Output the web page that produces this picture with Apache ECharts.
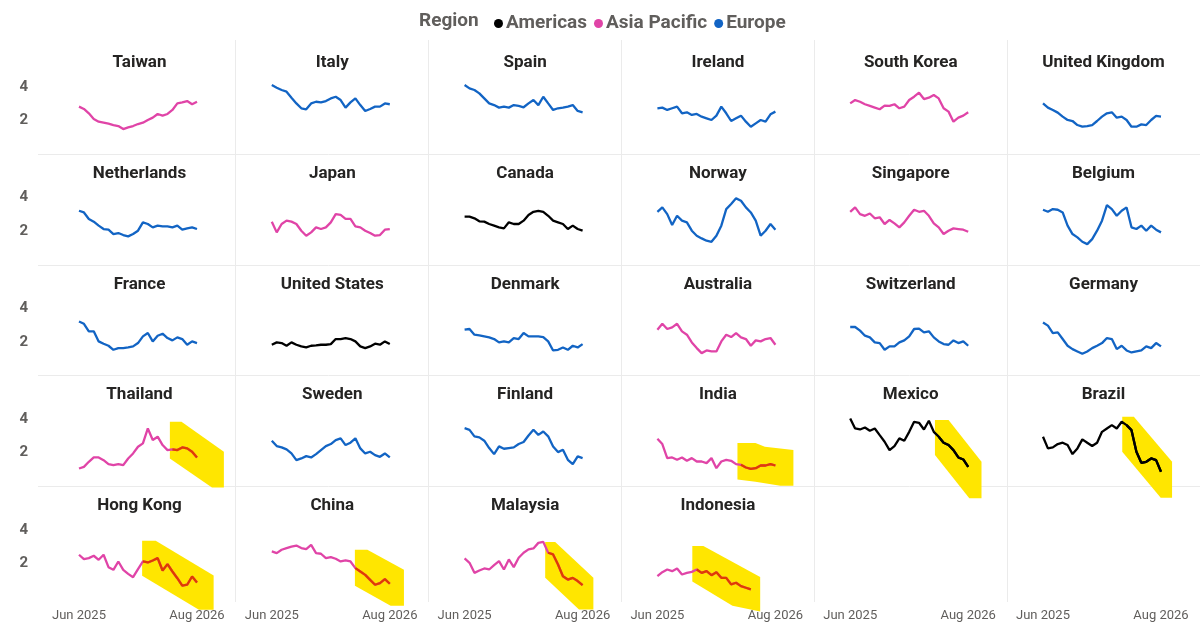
<!DOCTYPE html>
<html>
<head>
<meta charset="utf-8">
<script src="https://cdn.jsdelivr.net/npm/echarts@6/dist/echarts.min.js"></script>
<style>
  html, body { margin: 0; padding: 0; background: #fff; }
  #chart { width: 1200px; height: 642px; }
</style>
</head>
<body>
<div id="chart"></div>
<script>
// panels, row by row (6 per row)
const countries = [
  'Taiwan', 'Italy', 'Spain', 'Ireland', 'South Korea', 'United Kingdom',
  'Netherlands', 'Japan', 'Canada', 'Norway', 'Singapore', 'Belgium',
  'France', 'United States', 'Denmark', 'Australia', 'Switzerland', 'Germany',
  'Thailand', 'Sweden', 'Finland', 'India', 'Mexico', 'Brazil',
  'Hong Kong', 'China', 'Malaysia', 'Indonesia'
];
const regions = [
  'Asia Pacific', 'Europe', 'Europe', 'Europe', 'Asia Pacific', 'Europe',
  'Europe', 'Asia Pacific', 'Americas', 'Europe', 'Asia Pacific', 'Europe',
  'Europe', 'Americas', 'Europe', 'Asia Pacific', 'Europe', 'Europe',
  'Asia Pacific', 'Europe', 'Europe', 'Asia Pacific', 'Americas', 'Americas',
  'Asia Pacific', 'Asia Pacific', 'Asia Pacific', 'Asia Pacific'
];
const legendItems = ['Americas', 'Asia Pacific', 'Europe'];
const firstDate = '2025-06-01';
const lastDate = '2026-08-01';
const yTicks = [2, 4];

// values, evenly spaced from Jun 2025 to Aug 2026
const taiwan = [2.83, 2.69, 2.43, 2.09, 1.93, 1.87, 1.81, 1.73, 1.67, 1.49, 1.59, 1.67, 1.79, 1.87, 2.03, 2.17, 2.39, 2.29, 2.39, 2.63, 3.02, 3.08, 3.16, 2.97, 3.12];
const italy = [4.12, 3.96, 3.82, 3.72, 3.36, 3.02, 2.73, 2.67, 3.02, 3.12, 3.08, 3.16, 3.32, 3.42, 3.22, 2.77, 3.08, 3.32, 2.92, 2.57, 2.69, 2.83, 2.83, 3.02, 2.97];
const spain = [4.12, 3.92, 3.82, 3.62, 3.32, 3.02, 2.92, 2.77, 2.83, 2.77, 2.92, 2.87, 2.79, 3.02, 3.22, 2.92, 3.42, 3.02, 2.63, 2.73, 2.77, 2.83, 2.92, 2.57, 2.49];
const ireland = [2.73, 2.77, 2.63, 2.73, 2.83, 2.43, 2.49, 2.33, 2.39, 2.23, 2.13, 2.03, 2.29, 2.83, 2.43, 1.97, 2.13, 2.29, 1.93, 1.63, 1.83, 2.03, 1.93, 2.37, 2.53];
const southKorea = [3.02, 3.22, 3.12, 2.97, 2.87, 2.77, 2.67, 2.89, 2.87, 2.97, 2.73, 2.83, 3.22, 3.42, 3.66, 3.28, 3.36, 3.52, 3.32, 2.73, 2.53, 1.93, 2.17, 2.29, 2.49];
const unitedKingdom = [3.02, 2.77, 2.63, 2.47, 2.23, 2.03, 1.97, 1.73, 1.63, 1.67, 1.73, 1.97, 2.23, 2.43, 2.49, 2.17, 2.23, 2.03, 1.63, 1.63, 1.77, 1.73, 2.03, 2.27, 2.23];
const netherlands = [3.22, 3.12, 2.73, 2.57, 2.33, 2.13, 2.09, 1.83, 1.89, 1.77, 1.69, 1.83, 2.03, 2.53, 2.43, 2.23, 2.33, 2.29, 2.29, 2.23, 2.33, 2.09, 2.17, 2.23, 2.13];
const japan = [2.57, 1.93, 2.43, 2.63, 2.57, 2.43, 2.03, 1.73, 1.93, 2.23, 2.13, 2.23, 2.53, 3.02, 2.97, 2.73, 2.73, 2.29, 2.23, 2.03, 1.89, 1.73, 1.77, 2.09, 2.13];
const canada = [2.87, 2.87, 2.77, 2.59, 2.57, 2.43, 2.33, 2.23, 2.17, 2.53, 2.43, 2.43, 2.63, 2.97, 3.16, 3.22, 3.16, 2.92, 2.63, 2.53, 2.43, 2.13, 2.33, 2.13, 2.03];
const norway = [3.16, 3.42, 3.02, 2.37, 2.92, 2.63, 2.53, 2.03, 1.73, 1.57, 1.43, 1.37, 1.73, 2.33, 3.32, 3.62, 3.96, 3.82, 3.42, 3.12, 2.63, 1.73, 2.03, 2.43, 2.09];
const singapore = [3.16, 3.42, 3.02, 2.92, 3.06, 2.77, 2.83, 2.43, 2.67, 2.47, 2.23, 2.53, 2.92, 3.28, 3.16, 3.22, 2.92, 2.47, 2.23, 1.83, 2.03, 2.17, 2.13, 2.09, 1.97];
const belgium = [3.28, 3.16, 3.32, 3.28, 3.12, 2.33, 1.83, 1.63, 1.37, 1.23, 1.53, 2.03, 2.63, 3.56, 3.32, 2.92, 3.22, 3.42, 2.23, 2.13, 2.33, 2.03, 2.33, 2.09, 1.93];
const france = [3.22, 3.08, 2.63, 2.63, 2.03, 1.89, 1.77, 1.53, 1.63, 1.63, 1.67, 1.73, 1.93, 2.33, 2.53, 2.03, 2.37, 2.49, 2.23, 2.09, 2.27, 2.17, 1.83, 2.03, 1.93];
const unitedStates = [1.83, 1.97, 1.93, 1.77, 1.97, 1.83, 1.73, 1.67, 1.77, 1.79, 1.83, 1.83, 1.87, 2.17, 2.17, 2.23, 2.17, 2.03, 1.73, 1.63, 1.73, 1.89, 1.83, 2.03, 1.87];
const denmark = [2.73, 2.77, 2.43, 2.39, 2.33, 2.27, 2.17, 1.97, 2.03, 1.97, 2.23, 2.17, 2.53, 2.33, 2.33, 2.33, 2.29, 2.03, 1.49, 1.53, 1.67, 1.53, 1.77, 1.67, 1.87];
const australia = [2.73, 3.08, 2.77, 2.87, 3.08, 2.63, 2.43, 1.97, 1.63, 1.33, 1.49, 1.43, 1.43, 2.03, 2.43, 2.29, 2.53, 2.27, 2.17, 1.77, 2.09, 2.03, 2.17, 2.23, 1.83];
const switzerland = [2.89, 2.89, 2.67, 2.37, 2.27, 1.97, 1.93, 1.53, 1.73, 1.73, 1.97, 2.09, 2.33, 2.77, 2.79, 2.57, 2.63, 2.27, 2.03, 1.87, 1.83, 2.09, 1.93, 2.03, 1.77];
const germany = [3.16, 2.97, 2.53, 2.57, 2.17, 1.77, 1.57, 1.43, 1.29, 1.43, 1.63, 1.77, 1.93, 2.23, 2.17, 1.57, 1.77, 1.49, 1.37, 1.43, 1.49, 1.73, 1.63, 1.93, 1.73];
const thailand = [1.05, 1.15, 1.45, 1.71, 1.71, 1.55, 1.31, 1.25, 1.31, 1.25, 1.65, 1.95, 2.35, 2.55, 3.44, 2.75, 2.95, 2.45, 2.15, 2.19, 2.15, 2.31, 2.25, 2.05, 1.71];
const sweden = [2.71, 2.39, 2.31, 2.19, 1.95, 1.55, 1.65, 1.79, 1.71, 1.91, 2.15, 2.39, 2.51, 2.75, 2.85, 2.45, 2.59, 2.85, 2.25, 1.95, 2.05, 1.85, 1.75, 1.95, 1.71];
const finland = [3.46, 3.36, 2.97, 2.91, 2.71, 2.27, 1.91, 2.37, 2.23, 2.27, 2.31, 2.51, 2.63, 3.02, 3.36, 3.06, 3.26, 2.97, 2.37, 2.03, 2.17, 1.57, 1.31, 1.77, 1.67];
const india = [2.83, 2.51, 1.67, 1.71, 1.57, 1.71, 1.51, 1.67, 1.47, 1.47, 1.37, 1.67, 1.07, 1.47, 1.57, 1.51, 1.31, 1.27, 1.11, 1.03, 1.07, 1.23, 1.23, 1.31, 1.23];
const mexico = [4.04, 3.44, 3.38, 3.50, 3.30, 3.44, 3.04, 2.65, 2.15, 2.39, 2.85, 2.71, 3.24, 3.84, 3.78, 3.38, 3.90, 3.24, 2.95, 2.59, 2.45, 2.15, 1.71, 1.59, 1.15];
const brazil = [2.95, 2.25, 2.31, 2.51, 2.59, 2.45, 1.91, 2.25, 2.79, 2.59, 2.39, 2.59, 3.24, 3.44, 3.64, 3.44, 3.84, 3.64, 3.34, 2.05, 1.39, 1.45, 1.65, 1.55, 0.86];
const hongKong = [2.51, 2.25, 2.31, 2.45, 2.21, 2.51, 1.77, 1.61, 2.11, 1.61, 1.37, 1.17, 1.65, 2.11, 2.05, 2.17, 2.31, 1.57, 1.95, 1.51, 1.11, 0.66, 0.72, 1.21, 0.86];
const china = [2.71, 2.61, 2.81, 2.91, 3.00, 3.06, 2.91, 2.85, 3.10, 2.61, 2.57, 2.31, 2.37, 2.27, 2.11, 2.17, 2.11, 1.71, 1.51, 1.31, 1.01, 0.72, 0.82, 1.05, 0.78];
const malaysia = [2.29, 2.03, 1.43, 1.57, 1.69, 1.63, 1.89, 2.13, 1.63, 2.23, 1.77, 2.33, 2.63, 2.83, 2.89, 3.22, 3.28, 2.63, 2.53, 1.93, 1.23, 1.03, 1.13, 0.94, 0.70];
const indonesia = [1.23, 1.47, 1.63, 1.53, 1.69, 1.33, 1.43, 1.49, 1.63, 1.43, 1.53, 1.29, 1.47, 1.13, 1.13, 0.74, 0.84, 0.64, 0.54, 0.44];

const values = [
  taiwan, italy, spain, ireland, southKorea, unitedKingdom,
  netherlands, japan, canada, norway, singapore, belgium,
  france, unitedStates, denmark, australia, switzerland, germany,
  thailand, sweden, finland, india, mexico, brazil,
  hongKong, china, malaysia, indonesia
];

// forecast bands: polygon outline [date, value]
const thailandBand = [['2026-04-25', 3.84], ['2026-06-06', 3.84], ['2026-11-06', 2.05], ['2026-11-06', -0.08], ['2026-09-24', -0.08], ['2026-04-25', 1.65]];
const indiaBand = [['2026-03-17', 2.57], ['2026-05-21', 2.57], ['2026-06-24', 2.35], ['2026-10-05', 2.15], ['2026-10-05', 0.02], ['2026-08-19', 0.02], ['2026-05-21', 0.26], ['2026-03-17', 0.40]];
const mexicoBand = [['2026-04-03', 3.94], ['2026-05-22', 3.94], ['2026-09-18', 1.45], ['2026-09-18', -0.73], ['2026-08-05', -0.73], ['2026-04-03', 1.85]];
const brazilBand = [['2026-03-14', 4.14], ['2026-04-25', 4.14], ['2026-09-10', 1.45], ['2026-09-10', -0.70], ['2026-07-31', -0.70], ['2026-03-14', 2.05]];
const hongKongBand = [['2026-01-15', 3.34], ['2026-03-05', 3.34], ['2026-09-30', 1.27], ['2026-09-30', -0.78], ['2026-08-08', -0.78], ['2026-01-15', 1.25]];
const chinaBand = [['2026-03-28', 2.81], ['2026-05-12', 2.81], ['2026-09-21', 1.61], ['2026-09-21', -0.54], ['2026-08-04', -0.54], ['2026-03-28', 0.66]];
const malaysiaBand = [['2026-03-19', 3.27], ['2026-04-24', 3.27], ['2026-09-09', 1.13], ['2026-09-09', -0.76], ['2026-07-19', -0.76], ['2026-03-19', 1.13]];
const indonesiaBand = [['2025-10-05', 3.03], ['2025-11-14', 3.03], ['2026-06-07', 1.18], ['2026-06-07', -0.88], ['2026-02-27', -0.54], ['2025-10-05', 0.91]];

const bands = {
  'Thailand': thailandBand, 'India': indiaBand, 'Mexico': mexicoBand, 'Brazil': brazilBand,
  'Hong Kong': hongKongBand, 'China': chinaBand, 'Malaysia': malaysiaBand, 'Indonesia': indonesiaBand
};

const regionColors = { 'Americas': '#000000', 'Asia Pacific': '#E044A7', 'Europe': '#1264C4' };
const BAND_COLOR = '#FFE600';
const MONTHS = ['Jan', 'Feb', 'Mar', 'Apr', 'May', 'Jun', 'Jul', 'Aug', 'Sep', 'Oct', 'Nov', 'Dec'];
const FONT = 'Roboto, "Noto Sans", sans-serif';

// layout
const COLS = 6, ROWS = 5;
const COL_LEFT0 = 79, COL_W = 192.8, LINE_W = 118;
const ROW_BOTTOM0 = 154, ROW_H = 110.7, PLOT_H = 100.5;

function t(s) {
  const p = s.split('-').map(Number);
  return new Date(p[0], p[1] - 1, p[2]).getTime();
}
// line colour seen through the yellow band (multiply)
function multiply(a, b) {
  let out = '#';
  for (let i = 1; i < 7; i += 2) {
    const v = Math.round(parseInt(a.substr(i, 2), 16) * parseInt(b.substr(i, 2), 16) / 255);
    out += ('0' + v.toString(16)).slice(-2);
  }
  return out;
}
const T0 = t(firstDate), T1 = t(lastDate);
const STEP = (T1 - T0) / 24;

const grids = [], xAxes = [], yAxes = [], series = [], titles = [], graphics = [];

for (let k = 0; k < COLS * ROWS; k++) {
  const r = Math.floor(k / COLS), c = k % COLS;
  const left = COL_LEFT0 + COL_W * c;
  const bottom = ROW_BOTTOM0 + ROW_H * r;
  grids.push({ left: left, top: bottom - PLOT_H, width: LINE_W, height: PLOT_H });
  // timestamps on a plain value axis, labelled at both ends only
  xAxes.push({
    type: 'value', gridIndex: k, min: T0, max: T1, scale: true,
    axisLine: { show: false }, axisTick: { show: false }, splitLine: { show: false },
    axisLabel: {
      show: r === ROWS - 1,
      customValues: [T0, T1],
      showMinLabel: true, showMaxLabel: true,
      hideOverlap: false,
      margin: 12,
      color: '#605E5C', fontSize: 13, fontFamily: FONT,
      formatter: function (v) {
        const d = new Date(v);
        return MONTHS[d.getMonth()] + ' ' + d.getFullYear();
      }
    }
  });
  yAxes.push({
    type: 'value', gridIndex: k, min: 0, max: 6,
    axisLine: { show: false }, axisTick: { show: false }, splitLine: { show: false },
    axisLabel: {
      show: c === 0,
      customValues: yTicks,
      margin: 51,
      color: '#605E5C', fontSize: 15, fontWeight: 'bold', fontFamily: FONT
    }
  });
}

countries.forEach(function (name, k) {
  const r = Math.floor(k / COLS), c = k % COLS;
  const color = regionColors[regions[k]];
  const points = values[k].map(function (v, i) { return [T0 + i * STEP, v]; });
  titles.push({
    text: name,
    left: COL_LEFT0 + COL_W * c + LINE_W / 2 + 1.5,
    top: ROW_BOTTOM0 + ROW_H * r - 101,
    textAlign: 'center',
    padding: 0,
    textStyle: { fontSize: 17, fontWeight: 'bold', color: '#252423', fontFamily: FONT, lineHeight: 20 }
  });
  series.push({
    type: 'line',
    name: regions[k],
    xAxisIndex: k, yAxisIndex: k,
    data: points,
    showSymbol: false, symbol: 'none',
    color: color,
    lineStyle: { width: 2.3, color: color },
    silent: true,
    z: 2
  });
  const band = bands[name];
  if (band) {
    series.push({
      type: 'custom',
      name: 'Forecast',
      xAxisIndex: k, yAxisIndex: k,
      clip: false,
      silent: true,
      z: 1,
      data: band.map(function (p) { return [t(p[0]), p[1]]; }),
      renderItem: function (params, api) {
        if (params.dataIndex !== 0) return;
        const pts = band.map(function (p) { return api.coord([t(p[0]), p[1]]); });
        return { type: 'polygon', shape: { points: pts }, style: { fill: BAND_COLOR } };
      }
    });
    // part of the line inside the band
    const start = t(band[0][0]);
    const inside = points.filter(function (p) { return p[0] >= start; });
    const shade = multiply(color, BAND_COLOR);
    series.push({
      type: 'line',
      name: 'Forecast line',
      xAxisIndex: k, yAxisIndex: k,
      data: inside,
      showSymbol: false, symbol: 'none',
      color: shade,
      lineStyle: { width: 2.3, color: shade },
      silent: true,
      z: 3
    });
  }
});

// panel separators
for (let r = 0; r < ROWS - 1; r++) {
  const y = Math.round(ROW_BOTTOM0 + ROW_H * r) + 0.5;
  graphics.push({ type: 'line', silent: true, z: 0, shape: { x1: 38, y1: y, x2: 1200, y2: y }, style: { stroke: '#EBEBEB', lineWidth: 1 } });
}
for (let c = 1; c < COLS; c++) {
  const x = Math.round(COL_LEFT0 + COL_W * c - 36.5) + 0.5;
  graphics.push({ type: 'line', silent: true, z: 0, shape: { x1: x, y1: 40, x2: x, y2: 602 }, style: { stroke: '#EBEBEB', lineWidth: 1 } });
}
graphics.push({
  type: 'text', silent: true, x: 419, y: 21,
  style: { text: 'Region', fontSize: 19, fontWeight: 'bold', fontFamily: FONT, fill: '#605E5C', verticalAlign: 'middle' }
});

const chart = echarts.init(document.getElementById('chart'), null, { renderer: 'canvas' });
chart.setOption({
  backgroundColor: '#ffffff',
  animation: false,
  title: titles,
  legend: {
    data: legendItems,
    left: 489, top: 9,
    icon: 'circle',
    itemWidth: 9, itemHeight: 9, itemGap: 7,
    selectedMode: false,
    textStyle: { fontSize: 19, fontWeight: 'bold', color: '#605E5C', fontFamily: FONT, padding: [0, 0, 0, -2] }
  },
  grid: grids,
  xAxis: xAxes,
  yAxis: yAxes,
  graphic: graphics,
  series: series
});
</script>
</body>
</html>
